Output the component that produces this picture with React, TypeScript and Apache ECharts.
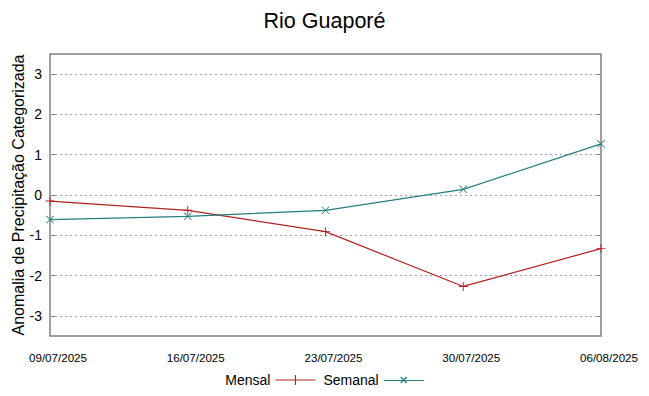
import React, { useEffect, useRef } from "react";
import * as echarts from "echarts";

const dates = ["09/07/2025", "16/07/2025", "23/07/2025", "30/07/2025", "06/08/2025"];
const mensal = [-0.15, -0.38, -0.91, -2.27, -1.33];
const semanal = [-0.61, -0.53, -0.38, 0.14, 1.27];
const yTicks = [-3, -2, -1, 0, 1, 2, 3];

const plusPath = "path://M0,4.5h10v1h-10z M4.5,0h1v10h-1z";
const crossPath = "path://M0,0.7L0.7,0L10,9.3L9.3,10z M9.3,0L10,0.7L0.7,10L0,9.3z";
const legPlus = "path://M0,9.4h40v1.2h-40z M19.4,5h1.2v10h-1.2z";
const legCross = "path://M0,9.4h40v1.2h-40z M16.5,6.9L17.4,6L23.5,12.1L22.6,13z M22.6,6L23.5,6.9L17.4,13L16.5,12.1z";

const RED = "#b22222";
const TEAL = "#24807f";

export default function App() {
  const ref = useRef<HTMLDivElement>(null);
  useEffect(() => {
    if (!ref.current) return;
    const chart = echarts.init(ref.current, null, { renderer: "svg" });
    const font = "Liberation Sans";
    chart.setOption({
      animation: false,
      textStyle: { fontFamily: font },
      title: {
        text: "Rio Guaporé",
        left: "center",
        top: 5,
        textStyle: { fontFamily: font, fontSize: 21.5, fontWeight: "normal", color: "#000" },
      },
      grid: {
        left: 50,
        right: 48,
        top: 54,
        bottom: 60,
        outerBoundsMode: "none",
        containLabel: false,
        show: true,
        borderColor: "#808080",
        borderWidth: 1.5,
        backgroundColor: "transparent",
      },
      legend: {
        bottom: 4,
        left: "center",
        align: "right",
        itemWidth: 40,
        itemHeight: 20,
        itemGap: 8,
        textStyle: { fontFamily: font, fontSize: 14, color: "#000" },
        data: [
          { name: "Mensal", icon: legPlus, itemStyle: { color: RED } },
          { name: "Semanal", icon: legCross, itemStyle: { color: TEAL } },
        ],
      },
      xAxis: {
        type: "category",
        data: dates,
        boundaryGap: false,
        axisLine: { show: false },
        axisTick: { show: false },
        axisLabel: {
          fontFamily: font,
          fontSize: 11.6,
          color: "#000",
          margin: 15,
          hideOverlap: false,
          padding: [0, 0, 0, 16],
        },
        splitLine: { show: false },
      },
      yAxis: [
        {
          type: "value",
          min: -3.5,
          max: 3.5,
          name: "Anomalia de Precipitação Categorizada",
          nameLocation: "middle",
          nameGap: 24,
          nameMoveOverlap: false,
          nameTextStyle: { fontFamily: font, fontSize: 16, color: "#000" },
          axisLine: { show: false },
          axisTick: { show: true, inside: true, length: 5, customValues: yTicks, lineStyle: { color: "#808080" } },
          axisLabel: {
            fontFamily: font,
            fontSize: 14,
            color: "#000",
            margin: 8,
            customValues: yTicks,
          },
          splitLine: { show: false },
        },
        {
          type: "value",
          min: -3.5,
          max: 3.5,
          position: "right",
          axisLine: { show: false },
          axisTick: { show: true, inside: true, length: 5, customValues: yTicks, lineStyle: { color: "#808080" } },
          axisLabel: { show: false },
          splitLine: { show: false },
        },
      ],
      series: [
        {
          name: "Mensal",
          type: "line",
          data: mensal,
          symbol: plusPath,
          symbolSize: 9,
          showAllSymbol: true,
          lineStyle: { color: RED, width: 1.2 },
          itemStyle: { color: RED },
          z: 3,
          markLine: {
            silent: true,
            symbol: "none",
            label: { show: false },
            lineStyle: { color: "#a0a0a0", type: [2, 3], width: 1 },
            emphasis: { disabled: true },
            data: yTicks.map((v) => ({ yAxis: v })),
            z: 1,
          },
        },
        {
          name: "Semanal",
          type: "line",
          data: semanal,
          symbol: crossPath,
          symbolSize: 8,
          showAllSymbol: true,
          lineStyle: { color: TEAL, width: 1.2 },
          itemStyle: { color: TEAL },
          z: 3,
        },
      ],
    });
    return () => chart.dispose();
  }, []);
  return <div ref={ref} style={{ width: 649, height: 396, position: "absolute", left: 0, top: 0 }} />;
}
